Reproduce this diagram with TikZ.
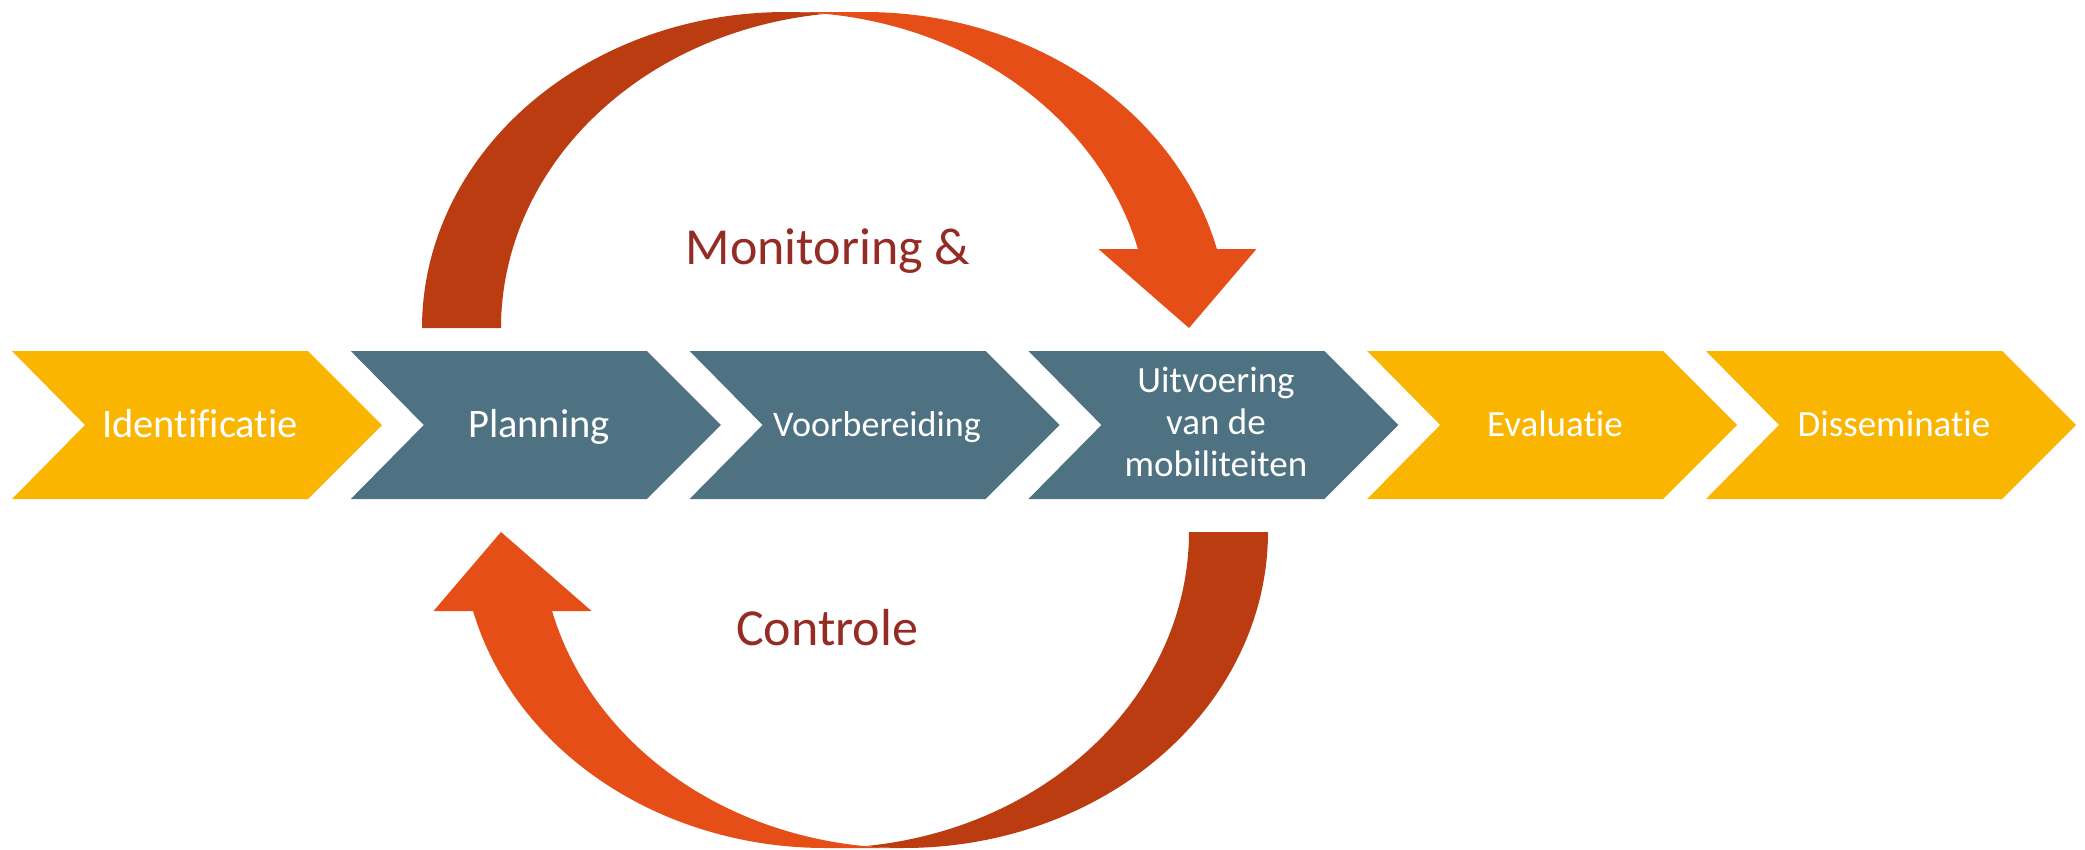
\documentclass[tikz,border=0pt]{standalone}
\usepackage{fontspec}
\setmainfont{Carlito}[Ligatures={NoCommon,NoContextual}]
\definecolor{chyellow}{HTML}{FAB500}
\definecolor{chblue}{HTML}{4E7282}
\definecolor{ordark}{HTML}{BC3C12}
\definecolor{orlight}{HTML}{E64E17}
\definecolor{txtred}{HTML}{952B25}
\newcommand{\chevronpath}[2]{%
  \fill[#2] (#1,351) -- ({#1+296},351) -- ({#1+370},425) -- ({#1+296},499)
    -- (#1,499) -- ({#1+73},425) -- cycle;}
\newcommand{\drawcurvedarrow}{%
  \fill[orlight] (1189,328) -- (1098.45,249) -- (1137.95,249)
    -- plot[domain=345.52:270, samples=70, variable=\t]
       ({785.75+363.75*cos(\t)},{328+316*sin(\t)})
    -- (864.75,12)
    -- plot[domain=270:345.52, samples=70, variable=\t]
       ({864.75+363.75*cos(\t)},{328+316*sin(\t)})
    -- (1256.45,249) -- cycle;
  \fill[ordark]
       plot[domain=263.77:180, samples=80, variable=\t]
       ({864.75+363.75*cos(\t)},{328+316*sin(\t)})
    -- (422,328)
    -- plot[domain=180:276.23, samples=90, variable=\t]
       ({785.75+363.75*cos(\t)},{328+316*sin(\t)})
    -- cycle;}
\begin{document}
\begin{tikzpicture}[x=1pt,y=-1pt,
  steplabel/.style={text=white, inner sep=0pt, anchor=base, align=center},
  biglabel/.style={steplabel, font=\fontsize{40.5}{48}\selectfont},
  smalllabel/.style={steplabel, font=\fontsize{37}{42}\selectfont},
  looplabel/.style={text=txtred, inner sep=0pt, anchor=base, font=\fontsize{52}{62}\selectfont}]
\useasboundingbox (0,0) rectangle (2085,849);
% process chevrons
\chevronpath{12}{chyellow}
\chevronpath{350.8}{chblue}
\chevronpath{689.6}{chblue}
\chevronpath{1028.4}{chblue}
\chevronpath{1367.2}{chyellow}
\chevronpath{1706}{chyellow}
% curved arrows
\drawcurvedarrow
\begin{scope}[rotate around={180:(845,430)}]
\drawcurvedarrow
\end{scope}
% labels
\node[biglabel] (ident) at (200,437) {Identificatie};
\node[biglabel] (plan) at (539,437) {Planning};
\node[smalllabel, font=\fontsize{36}{42}\selectfont] (voor) at (877,436) {Voorbereiding};
\node[smalllabel, anchor=north] (uitv) at (1216,367) {Uitvoering\\van de\\mobiliteiten};
\node[smalllabel] (eval) at (1555,436) {Evaluatie};
\node[smalllabel] (diss) at (1894,436) {Disseminatie};
\node[looplabel] (mon) at (828,264) {Monitoring \&};
\node[looplabel] (ctrl) at (827,645) {Controle};
\end{tikzpicture}
\end{document}
